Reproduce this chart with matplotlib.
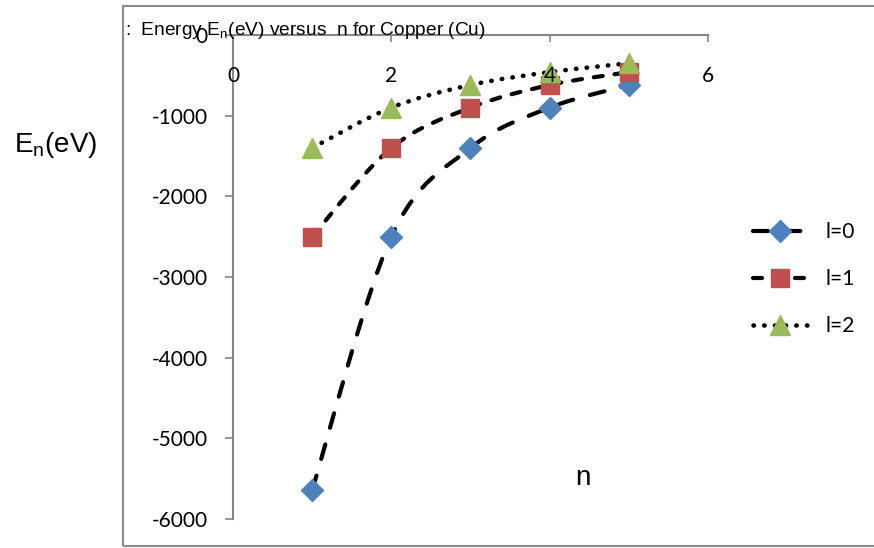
import numpy as np
import matplotlib
matplotlib.use('Agg')
import matplotlib.pyplot as plt
from matplotlib.path import Path
from matplotlib.patches import PathPatch, Rectangle
from matplotlib.lines import Line2D
from matplotlib.transforms import offset_copy

plt.rcParams['axes.unicode_minus'] = False
plt.rcParams['lines.scale_dashes'] = False

# energy levels of copper (eV) for the first five shells
n = [1, 2, 3, 4, 5]
E_l0 = [-5640, -2500, -1400, -900, -620]
E_l1 = [-2500, -1400, -900, -620, -460]
E_l2 = [-1400, -900, -620, -460, -350]
labels = ['l=0', 'l=1', 'l=2']
xticks = [0, 2, 4, 6]
yticks = [0, -1000, -2000, -3000, -4000, -5000, -6000]

tick_font = ['Lato', 'DejaVu Sans']
arial = ['Liberation Sans', 'DejaVu Sans']

styles = [
    dict(marker='D', color='#4F81BD', ms=11, dash=(0, (10.8, 12.5)), lw=3.0),
    dict(marker='s', color='#C0504D', ms=13, dash=(0, (6.5, 8.6)), lw=3.0),
    dict(marker='^', color='#9BBB59', ms=14, dash=(0, (0.3, 7.4)), lw=3.3),
]


def smooth_path(x, y):
    # cubic bezier through the points (catmull-rom style tangents)
    pts = np.column_stack([x, y]).astype(float)
    verts = [pts[0]]
    codes = [Path.MOVETO]
    for i in range(len(pts) - 1):
        p0 = pts[max(i - 1, 0)]
        p1 = pts[i]
        p2 = pts[i + 1]
        p3 = pts[min(i + 2, len(pts) - 1)]
        verts += [p1 + (p2 - p0) / 6, p2 - (p3 - p1) / 6, p2]
        codes += [Path.CURVE4] * 3
    return Path(verts, codes)


fig = plt.figure(figsize=(8.74, 5.48), dpi=100)
ax = fig.add_axes([233 / 874, 1 - 519 / 548, 475 / 874, 484 / 548])

# outer chart border
fig.add_artist(Rectangle((123.5 / 874, 2 / 548), 1.0, 540 / 548,
                         transform=fig.transFigure, fill=False,
                         edgecolor='#8c8c8c', lw=1.5))

handles = []
for E, st in zip([E_l0, E_l1, E_l2], styles):
    patch = PathPatch(smooth_path(n, E), fill=False, edgecolor='black',
                      lw=st['lw'], linestyle=st['dash'], capstyle='round',
                      zorder=2)
    ax.add_patch(patch)
    ax.plot(n, E, linestyle='none', marker=st['marker'], ms=st['ms'],
            color=st['color'], mec=st['color'], zorder=3, clip_on=False)
    handles.append(Line2D([], [], color='black', lw=st['lw'],
                          linestyle=st['dash'], dash_capstyle='round',
                          marker=st['marker'], ms=st['ms'],
                          mfc=st['color'], mec=st['color']))

ax.set_xlim(0, 6)
ax.set_ylim(-6000, 0)

for s in ['right', 'bottom']:
    ax.spines[s].set_visible(False)
for s in ['left', 'top']:
    ax.spines[s].set_color('#868686')
    ax.spines[s].set_linewidth(1.5)

ax.set_yticks(yticks)
ax.set_yticklabels([str(v) for v in yticks], fontfamily=tick_font, fontsize=15)
ax.tick_params(axis='y', direction='out', length=6, width=1.2,
               color='#868686', pad=12)

ax.xaxis.set_ticks_position('top')
ax.set_xticks(xticks)
ax.tick_params(axis='x', direction='in', length=5, width=1.2,
               color='#868686', labeltop=False, labelbottom=False)
lab_tr = offset_copy(ax.get_xaxis_transform(), fig=fig, y=-41, units='dots')
for xt in xticks:
    ax.text(xt, 1, str(xt), transform=lab_tr, ha='center', va='center',
            fontfamily=tick_font, fontsize=15)

fig.text(125 / 874, 1 - 35 / 548,
         r':  Energy E$_\mathregular{n}$(eV) versus  n for Copper (Cu)',
         fontfamily=arial, fontsize=13.8, ha='left', va='baseline')
fig.text(56 / 874, 1 - 145 / 548, r'E$_\mathregular{n}$(eV)',
         fontfamily=arial, fontsize=20, ha='center', va='center')
fig.text(583 / 874, 1 - 478 / 548, 'n', fontfamily=arial, fontsize=20,
         ha='center', va='center')

ax.legend(handles, labels, loc='upper left',
          bbox_to_anchor=(753 / 874, 1 - 222 / 548),
          bbox_transform=fig.transFigure, frameon=False,
          prop={'family': tick_font, 'size': 15}, handlelength=2.6,
          handletextpad=0.9, labelspacing=1.3, borderpad=0,
          borderaxespad=0, numpoints=1)

fig.savefig('out.png', dpi=100)
